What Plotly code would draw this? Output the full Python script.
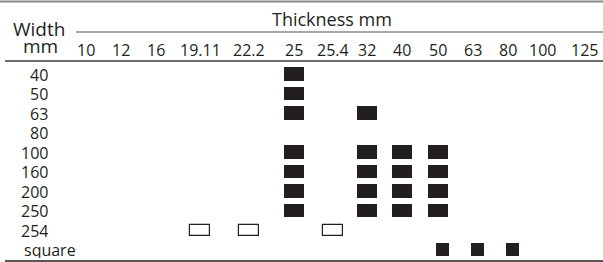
import plotly.graph_objects as go

# ---------------- data ----------------
thickness = ["10", "12", "16", "19.11", "22.2", "25", "25.4", "32", "40", "50", "63", "80", "100", "125"]
widths = ["40", "50", "63", "80", "100", "160", "200", "250", "254", "square"]

# standard flat sizes (filled rectangles): width row, thickness column
std_width = ["40", "50", "63", "100", "160", "200", "250",
             "63", "100", "160", "200", "250",
             "100", "160", "200", "250",
             "100", "160", "200", "250"]
std_thick = ["25", "25", "25", "25", "25", "25", "25",
             "32", "32", "32", "32", "32",
             "40", "40", "40", "40",
             "50", "50", "50", "50"]

# imperial sizes (open rectangles)
imp_width = ["254", "254", "254"]
imp_thick = ["19.11", "22.2", "25.4"]

# square sections
sq_width = ["square", "square", "square"]
sq_thick = ["50", "63", "80"]

# ---------------- layout / style ----------------
W, H = 603, 262
COL_X = [86, 121, 156, 200, 249, 294, 333, 367, 402, 438, 473, 508, 542, 584]
col_pos = dict(zip(thickness, COL_X))
ROW0, PITCH = 74.0, 19.5
INK = "#231f20"
FONT = "Open Sans"

def px_to_row(py):
    return (py - ROW0) / PITCH

fig = go.Figure()

def add_rects(wl, tl, wpx, hpx, fill, line_w, dx=0.0):
    fig.add_trace(go.Bar(
        orientation="h",
        y=wl,
        x=[wpx] * len(tl),
        base=[col_pos[t] - wpx / 2 + dx for t in tl],
        width=hpx / PITCH,
        marker=dict(color=fill, line=dict(color=INK, width=line_w)),
        hoverinfo="skip",
        showlegend=False,
    ))

add_rects(std_width, std_thick, 20, 13.5, INK, 0)
add_rects(imp_width, imp_thick, 20, 11, "white", 1.2)
add_rects(sq_width, sq_thick, 13, 13, INK, 0, dx=4.5)

ann = []
# column labels
for t in thickness:
    ann.append(dict(x=col_pos[t], xref="x", y=1 - 49 / H, yref="paper",
                    text=t, showarrow=False, xanchor="center", yanchor="middle",
                    height=17, font=dict(family=FONT, size=16, color=INK)))
# row labels
for i, w in enumerate(widths):
    if w == "square":
        ax, xa = 22 / W, "left"
    else:
        ax, xa = 50 / W, "right"
    ann.append(dict(x=ax, xref="paper", y=i, yref="y", text=w, showarrow=False,
                    xanchor=xa, yanchor="middle", height=17,
                    font=dict(family=FONT, size=16, color=INK)))
# headers
ann.append(dict(x=39 / W, xref="paper", y=1 - 29 / H, yref="paper", text="Width",
                showarrow=False, xanchor="center", yanchor="middle", height=18,
                font=dict(family=FONT, size=19, color=INK)))
ann.append(dict(x=40 / W, xref="paper", y=1 - 46 / H, yref="paper", text="mm",
                showarrow=False, xanchor="center", yanchor="middle", height=15,
                font=dict(family=FONT, size=19, color=INK)))
ann.append(dict(x=332 / W, xref="paper", y=1 - 19 / H, yref="paper", text="Thickness mm",
                showarrow=False, xanchor="center", yanchor="middle",
                font=dict(family=FONT, size=18, color=INK)))

def hline(y, x0, x1, color, width):
    return dict(type="line", xref="paper", yref="paper",
                x0=x0 / W, x1=x1 / W, y0=1 - y / H, y1=1 - y / H,
                line=dict(color=color, width=width))

shapes = [
    hline(1.5, 0, 603, "#8a8a8a", 2),
    hline(32, 76, 603, "#8a8a8a", 1.5),
    hline(61, 5, 603, "#6d6d6d", 2),
    hline(261, 5, 603, "#231f20", 1.5),
]

fig.update_layout(
    width=W, height=H, autosize=False,
    margin=dict(l=0, r=0, t=0, b=0, pad=0),
    paper_bgcolor="white", plot_bgcolor="white",
    barmode="overlay", bargap=0,
    xaxis=dict(range=[0, W], visible=False, fixedrange=True),
    yaxis=dict(type="category", categoryarray=widths, categoryorder="array",
               range=[px_to_row(H), px_to_row(0)], visible=False, fixedrange=True),
    annotations=ann, shapes=shapes, showlegend=False,
)

fig.write_html("out.html", config={"displayModeBar": False},
               post_script="document.body.style.margin='0';document.body.style.overflow='hidden';")
